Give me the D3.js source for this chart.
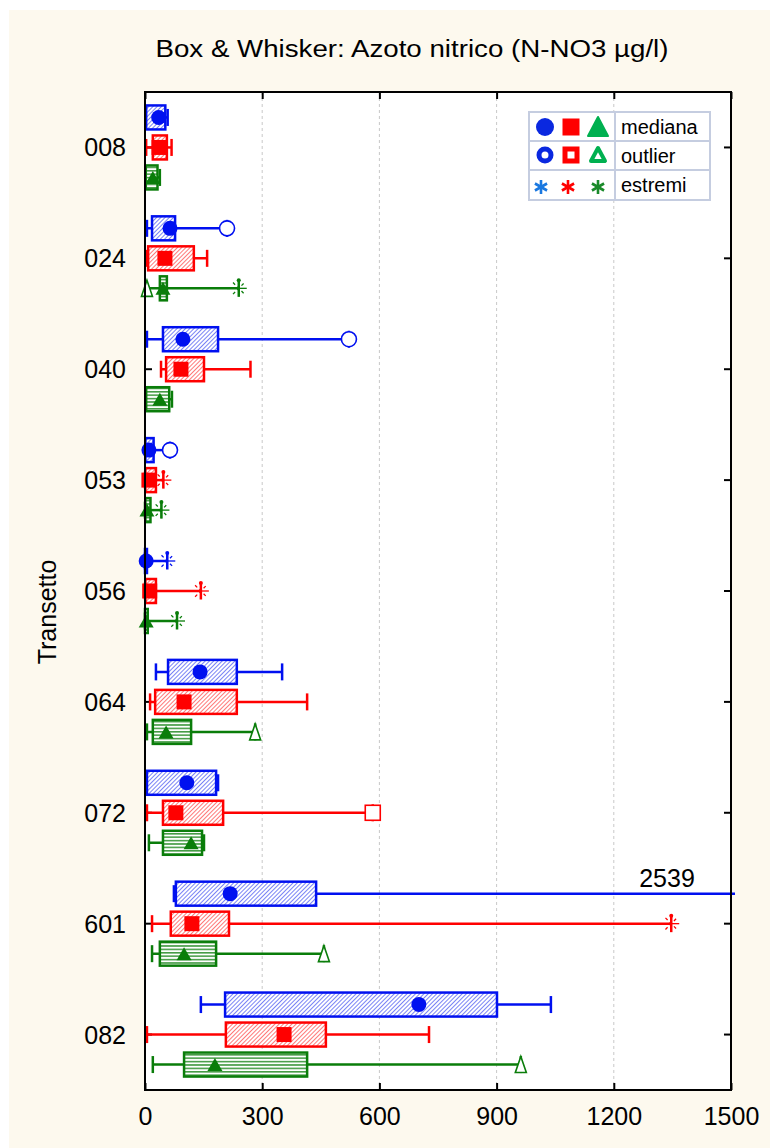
<!DOCTYPE html>
<html><head><meta charset="utf-8">
<script src="https://cdn.jsdelivr.net/npm/d3@7"></script>
<style>body{margin:0;background:#fff}text{font-family:"Liberation Sans",Arial,sans-serif}</style>
</head><body>
<svg id="c" width="770" height="1148"></svg>
<script>
// ---- data ----
const categories = ["008","024","040","053","056","064","072","601","082"];
const xTicks = [0,300,600,900,1200,1500];
const seriesKeys = ["blue","red","green"];
// [min, q1, median, q3, max]
const blueStats = [[2,3,35,52,58],[5,18,64,77,210],[5,46,97,187,522],[1,1,10,22,64],[0,0,3,5,57],[28,59,141,235,351],[3,5,107,182,187],[74,79,218,438,2539],[143,205,701,901,1039]];
const blueOutliers = [[],[210],[522],[64],[],[],[],[],[]];
const blueExtremes = [[],[],[],[],[57],[],[],[],[]];
const redStats = [[3,20,36,56,68],[5,8,51,125,159],[41,54,92,151,270],[0,1,10,28,47],[0,1,12,28,143],[13,26,100,235,415],[5,46,79,200,583],[18,66,120,215,1347],[5,207,356,463,727]];
const redOutliers = [[],[],[],[],[],[],[583],[],[]];
const redExtremes = [[],[],[],[47],[143],[],[],[1347],[]];
const greenStats = [[1,2,20,32,38],[2,38,46,56,240],[3,3,38,62,69],[0,1,5,14,42],[0,0,3,7,82],[5,20,54,118,282],[10,46,118,146,151],[18,38,100,182,458],[20,100,179,415,962]];
const greenOutliers = [[],[5],[],[],[],[282],[],[458],[962]];
const greenExtremes = [[],[240],[],[42],[82],[],[],[],[]];
const offScaleLabel = {cat:"601", series:"blue", text:"2539"};
const legendLabels = ["mediana","outlier","estremi"];

const seriesData = {
  blue:{stats:blueStats,out:blueOutliers,ext:blueExtremes,color:"#0010f0",marker:"circle",pattern:"hatchBlue"},
  red:{stats:redStats,out:redOutliers,ext:redExtremes,color:"#ff0000",marker:"square",pattern:"hatchRed"},
  green:{stats:greenStats,out:greenOutliers,ext:greenExtremes,color:"#0a7d0a",marker:"triangle",pattern:"hatchGreen"}
};

// ---- layout ----
const svg = d3.select("#c");
const L=145,R=731,T=92,B=1090;
const x = d3.scaleLinear().domain([0,1500]).range([L,R]);
const y = d3.scaleBand().domain(categories).range([T,B]);
const sub = d3.scalePoint().domain(seriesKeys).range([-30,30]);
const boxH=24, capH=17;

svg.append("rect").attr("x",9).attr("y",10).attr("width",761).attr("height",1138).attr("fill","#fdf9ee");
svg.append("rect").attr("x",L).attr("y",T).attr("width",R-L).attr("height",B-T).attr("fill","#fff");

const defs = svg.append("defs");
function hatch(id,color){
  const p=defs.append("pattern").attr("id",id).attr("patternUnits","userSpaceOnUse").attr("width",3).attr("height",3).attr("patternTransform","rotate(45)");
  p.append("rect").attr("width",3).attr("height",3).attr("fill","#fff");
  p.append("line").attr("x1",0).attr("y1",0).attr("x2",0).attr("y2",3).attr("stroke",color).attr("stroke-width",1.3);
}
hatch("hatchBlue","#3040f0");
hatch("hatchRed","#ff3030");
{
  const p=defs.append("pattern").attr("id","hatchGreen").attr("patternUnits","userSpaceOnUse").attr("width",4).attr("height",3.4);
  p.append("rect").attr("width",4).attr("height",3.4).attr("fill","#fff");
  p.append("line").attr("x1",0).attr("y1",0.8).attr("x2",4).attr("y2",0.8).attr("stroke","#0a7d0a").attr("stroke-width",1.2);
}
defs.append("clipPath").attr("id","clip").append("rect").attr("x",L-10).attr("y",T).attr("width",R-L+14).attr("height",B-T);

// grid
svg.append("g").selectAll("line").data(xTicks.slice(1,-1)).join("line")
  .attr("x1",d=>x(d)).attr("x2",d=>x(d)).attr("y1",T).attr("y2",B)
  .attr("stroke","#c8c8c8").attr("stroke-dasharray","3,3").attr("stroke-width",1);

// title
svg.append("text").attr("x",412).attr("y",57).attr("text-anchor","middle").attr("font-size",23)
  .attr("textLength",513).attr("lengthAdjust","spacingAndGlyphs")
  .text("Box & Whisker: Azoto nitrico (N-NO3 µg/l)");
svg.append("text").attr("transform","translate(56,612) rotate(-90)").attr("text-anchor","middle").attr("font-size",25).text("Transetto");

// axes
const ax = svg.append("g").attr("transform",`translate(0,${B})`).call(d3.axisBottom(x).tickValues(xTicks).tickFormat(d3.format("d")).tickSize(-7).tickPadding(17));
const axTop = svg.append("g").attr("transform",`translate(0,${T})`).call(d3.axisTop(x).tickValues(xTicks).tickSize(-7).tickFormat(""));
const ay = svg.append("g").attr("transform",`translate(${L},0)`).call(d3.axisLeft(y).tickSize(-7).tickPadding(19));
const ayR = svg.append("g").attr("transform",`translate(${R},0)`).call(d3.axisRight(y).tickSize(-7).tickFormat(""));
[ax,axTop,ay,ayR].forEach(a=>{a.select(".domain").remove();a.selectAll("line").attr("stroke","#000").attr("stroke-width",2);});
ax.selectAll("text").attr("font-size",25).attr("fill","#000");
ay.selectAll("text").attr("font-size",25).attr("fill","#000").attr("dy","0.36em");

// marks
const plot = svg.append("g").attr("clip-path","url(#clip)");
function marker(g,type,cx,cy,color,open){
  if(type==="circle"){
    g.append("circle").attr("cx",cx).attr("cy",cy).attr("r",7.5)
      .attr("fill",open?"#fff":color).attr("stroke",color).attr("stroke-width",open?1.6:0);
  } else if(type==="square"){
    const s=15;
    g.append("rect").attr("x",cx-s/2).attr("y",cy-s/2).attr("width",s).attr("height",s)
      .attr("fill",open?"#fff":color).attr("stroke",color).attr("stroke-width",open?1.6:0);
  } else {
    const h=open?16:13, w=open?11:15;
    g.append("path").attr("d",`M${cx},${cy-h/2} L${cx+w/2},${cy+h/2} L${cx-w/2},${cy+h/2} Z`)
      .attr("fill",open?"#fff":color).attr("stroke",color).attr("stroke-width",open?1.6:0);
  }
}
function star(g,cx,cy,color,r){
  r=r||8;
  const s=g.append("g").attr("stroke",color).attr("stroke-width",1.3);
  s.append("line").attr("x1",cx-r).attr("x2",cx+r).attr("y1",cy).attr("y2",cy);
  s.append("line").attr("x1",cx).attr("x2",cx).attr("y1",cy-r).attr("y2",cy+r);
  const d=r*0.72;
  s.append("line").attr("x1",cx-d).attr("x2",cx+d).attr("y1",cy-d).attr("y2",cy+d).attr("stroke-dasharray","3,3");
  s.append("line").attr("x1",cx-d).attr("x2",cx+d).attr("y1",cy+d).attr("y2",cy-d).attr("stroke-dasharray","3,3");
  g.append("circle").attr("cx",cx).attr("cy",cy-r).attr("r",2).attr("fill",color);
}

seriesKeys.forEach(k=>{
  const sd=seriesData[k];
  categories.forEach((c,i)=>{
    const [mn,q1,md,q3,mx]=sd.stats[i];
    const cy=y(c)+y.bandwidth()/2+sub(k);
    const g=plot.append("g");
    g.append("line").attr("x1",x(mn)).attr("x2",x(mx)).attr("y1",cy).attr("y2",cy).attr("stroke",sd.color).attr("stroke-width",2.5);
    [mn,mx].forEach(v=>g.append("line").attr("x1",x(v)).attr("x2",x(v)).attr("y1",cy-capH/2).attr("y2",cy+capH/2).attr("stroke",sd.color).attr("stroke-width",2.5));
    g.append("rect").attr("x",x(q1)).attr("y",cy-boxH/2).attr("width",Math.max(1,x(q3)-x(q1))).attr("height",boxH)
      .attr("fill",`url(#${sd.pattern})`).attr("stroke",sd.color).attr("stroke-width",2.5);
    marker(g,sd.marker,x(md),cy,sd.color,false);
    sd.out[i].forEach(v=>marker(g,sd.marker,x(v),cy,sd.color,true));
    sd.ext[i].forEach(v=>star(g,x(v),cy,sd.color));
  });
});
// off-scale label
svg.append("text").attr("x",667).attr("y",y(offScaleLabel.cat)+y.bandwidth()/2+sub(offScaleLabel.series)-7)
  .attr("text-anchor","middle").attr("font-size",25).text(offScaleLabel.text);

// frame
svg.append("rect").attr("x",L).attr("y",T).attr("width",R-L).attr("height",B-T).attr("fill","none").attr("stroke","#000").attr("stroke-width",2);

// legend
const lg=svg.append("g");
const lx0=529,lx1=710,lsep=615,ly=[112,141,170,200];
lg.append("rect").attr("x",lx0).attr("y",ly[0]).attr("width",lx1-lx0).attr("height",ly[3]-ly[0]).attr("fill","#fff").attr("stroke","#c5cde0").attr("stroke-width",2);
lg.append("line").attr("x1",lsep).attr("x2",lsep).attr("y1",ly[0]).attr("y2",ly[3]).attr("stroke","#c5cde0").attr("stroke-width",2);
[ly[1],ly[2]].forEach(v=>lg.append("line").attr("x1",lx0).attr("x2",lx1).attr("y1",v).attr("y2",v).attr("stroke","#c5cde0").attr("stroke-width",2));
legendLabels.forEach((t,j)=>lg.append("text").attr("x",621).attr("y",(ly[j]+ly[j+1])/2+7).attr("font-size",20).text(t));
const lcols={blue:"#0a28e0",red:"#ff0000",green:"#00b050"};
const lxs={blue:545,red:571,green:598};
const ry=[127,155,186];
lg.append("circle").attr("cx",lxs.blue).attr("cy",ry[0]).attr("r",9).attr("fill",lcols.blue);
lg.append("rect").attr("x",lxs.red-8.5).attr("y",ry[0]-8.5).attr("width",17).attr("height",17).attr("fill",lcols.red);
lg.append("path").attr("d",`M${lxs.green},${ry[0]-10} L${lxs.green+10},${ry[0]+9} L${lxs.green-10},${ry[0]+9} Z`).attr("fill",lcols.green).attr("stroke",lcols.green).attr("stroke-linejoin","round").attr("stroke-width",2);
lg.append("circle").attr("cx",lxs.blue).attr("cy",ry[1]).attr("r",6).attr("fill","none").attr("stroke",lcols.blue).attr("stroke-width",5);
lg.append("rect").attr("x",lxs.red-6).attr("y",ry[1]-6).attr("width",12).attr("height",12).attr("fill","none").attr("stroke",lcols.red).attr("stroke-width",5);
lg.append("path").attr("d",`M${lxs.green},${ry[1]-7} L${lxs.green+7},${ry[1]+6} L${lxs.green-7},${ry[1]+6} Z`).attr("fill","none").attr("stroke",lcols.green).attr("stroke-linejoin","round").attr("stroke-width",4);
[["blue","#1a78e0"],["red","#ff0000"],["green","#1a8a2a"]].forEach(([k,col])=>{
  const cx=lxs[k]-(k==="blue"?4:k==="red"?3:0), cy=ry[2]+1, r=7;
  const s=lg.append("g").attr("stroke",col).attr("stroke-width",2.6).attr("stroke-linecap","butt");
  [90,30,-30].forEach(a=>{
    const rad=a*Math.PI/180;
    s.append("line").attr("x1",cx-r*Math.cos(rad)).attr("y1",cy-r*Math.sin(rad)).attr("x2",cx+r*Math.cos(rad)).attr("y2",cy+r*Math.sin(rad));
  });
});
</script>
</body></html>
